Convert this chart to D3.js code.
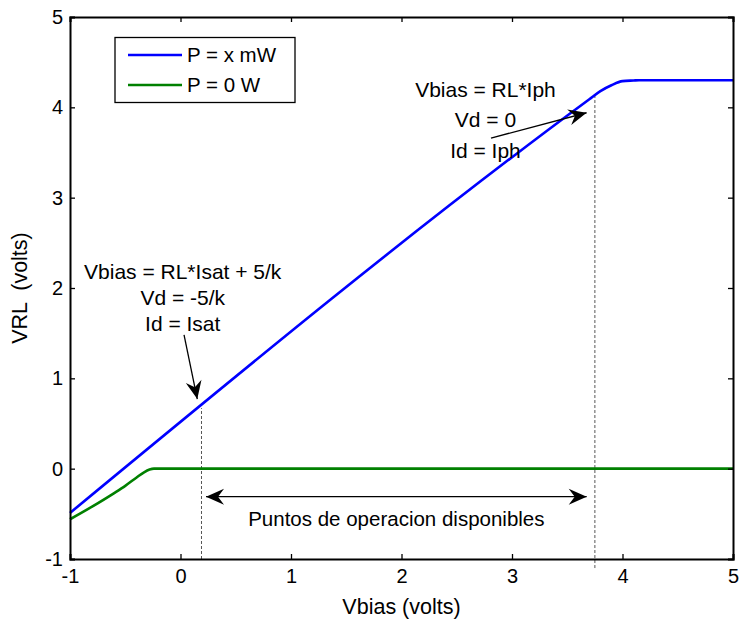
<!DOCTYPE html>
<html><head><meta charset="utf-8">
<script src="https://cdn.jsdelivr.net/npm/d3@7"></script>
<style>body{margin:0;background:#fff}svg{display:block}text{font-family:"Liberation Sans",Arial,sans-serif;fill:#000}</style>
</head><body><svg id="c" width="739" height="621"></svg>
<script>
const xTicks = [-1,0,1,2,3,4,5];
const yTicks = [-1,0,1,2,3,4,5];
const bluePts = [[-1,-0.49],[3.7,4.09],[3.8,4.18],[3.9,4.245],[4.0,4.29],[4.1,4.297],[4.15,4.3],[5,4.3]];
const greenPts = [[-1,-0.56],[-0.8,-0.42],[-0.6,-0.27],[-0.5,-0.19],[-0.4,-0.1],[-0.33,-0.04],[-0.28,-0.01],[-0.24,0],[5,0]];
const seriesNames = ["P = x mW","P = 0 W"];
const seriesColors = ["#0000ff","#008000"];
const opLines = [[0.19,-1,0.67],[3.75,-1.1,4.14]];
const annLeft = ["Vbias = RL*Isat + 5/k","Vd = -5/k","Id = Isat"];
const annTop = ["Vbias = RL*Iph","Vd = 0","Id = Iph"];
const rangeLabel = "Puntos de operacion disponibles";

const svg = d3.select("#c");
const L=70,R=733,T=17,B=559;
const x = d3.scaleLinear().domain([-1,5]).range([L,R]);
const y = d3.scaleLinear().domain([-1,5]).range([B,T]);

// dashed verticals
opLines.forEach(d=>{
  svg.append("line").attr("x1",x(d[0])).attr("x2",x(d[0])).attr("y1",y(d[1])).attr("y2",y(d[2]))
    .attr("stroke","#555").attr("stroke-width",1).attr("stroke-dasharray","3,2");
});

const line = d3.line().x(d=>x(d[0])).y(d=>y(d[1])).curve(d3.curveMonotoneX);
svg.append("path").datum(greenPts).attr("d",line).attr("fill","none").attr("stroke",seriesColors[1]).attr("stroke-width",2.6);
svg.append("path").datum(bluePts).attr("d",line).attr("fill","none").attr("stroke",seriesColors[0]).attr("stroke-width",2.6);

// axes box
const fmt = d=>String(d);
const ax = svg.append("g");
ax.append("g").attr("transform",`translate(0,${B})`).call(d3.axisBottom(x).tickValues(xTicks).tickSize(-5).tickPadding(10).tickFormat(fmt));
ax.append("g").attr("transform",`translate(0,${T})`).call(d3.axisTop(x).tickValues(xTicks).tickSize(-5).tickFormat(""));
ax.append("g").attr("transform",`translate(${L},0)`).call(d3.axisLeft(y).tickValues(yTicks).tickSize(-5).tickPadding(7).tickFormat(fmt));
ax.append("g").attr("transform",`translate(${R},0)`).call(d3.axisRight(y).tickValues(yTicks).tickSize(-5).tickFormat(""));
ax.selectAll(".domain").attr("stroke","#000").attr("stroke-width",2);
ax.selectAll(".tick line").attr("stroke","#000").attr("stroke-width",1.3);
ax.selectAll(".tick text").attr("font-size",20).attr("font-family","Liberation Sans, Arial, sans-serif").attr("fill","#000");

// axis labels
svg.append("text").attr("x",(L+R)/2).attr("y",614).attr("text-anchor","middle").attr("font-size",21.5).text("Vbias (volts)");
svg.append("text").attr("transform",`translate(27,${(T+B)/2}) rotate(-90)`).attr("text-anchor","middle").attr("font-size",21.5).attr("xml:space","preserve").style("white-space","pre").text("VRL  (volts)");

// legend
const lg = svg.append("g");
lg.append("rect").attr("x",115).attr("y",37.5).attr("width",180).attr("height",65).attr("fill","#fff").attr("stroke","#000").attr("stroke-width",1.3);
seriesNames.forEach((n,i)=>{
  const yy = 55+i*30;
  lg.append("line").attr("x1",128).attr("x2",182).attr("y1",yy).attr("y2",yy).attr("stroke",seriesColors[i]).attr("stroke-width",2.6);
  lg.append("text").attr("x",187).attr("y",yy).attr("dy","0.35em").attr("font-size",20.5).text(n);
});

// arrowhead helper
function head(tx,ty,dx,dy){
  const len=Math.hypot(dx,dy), ux=dx/len, uy=dy/len, px=-uy, py=ux;
  const Lh=18, W=8, N=6;
  const bx=tx-ux*Lh, by=ty-uy*Lh;
  const nx=tx-ux*(Lh-N), ny=ty-uy*(Lh-N);
  return `M${tx},${ty}L${bx+px*W},${by+py*W}L${nx},${ny}L${bx-px*W},${by-py*W}Z`;
}
function arrow(x1,y1,x2,y2){
  svg.append("line").attr("x1",x1).attr("y1",y1).attr("x2",x2).attr("y2",y2).attr("stroke","#000").attr("stroke-width",1.3);
  svg.append("path").attr("d",head(x2,y2,x2-x1,y2-y1)).attr("fill","#000");
}
// left annotation
annLeft.forEach((t,i)=>{
  svg.append("text").attr("x",x(0.02)).attr("y",y(2.18)+i*26).attr("dy","0.35em").attr("text-anchor","middle").attr("font-size",21).text(t);
});
arrow(x(0.032),y(1.48),x(0.152),y(0.77));
// top annotation
annTop.forEach((t,i)=>{
  svg.append("text").attr("x",x(2.76)).attr("y",y(4.2)+i*30.5).attr("dy","0.35em").attr("text-anchor","middle").attr("font-size",21).text(t);
});
arrow(x(2.81),y(3.66),x(3.675),y(3.94));
// double arrow
const ya=y(-0.31), xa1=x(0.231), xa2=x(3.676);
svg.append("line").attr("x1",xa1).attr("x2",xa2).attr("y1",ya).attr("y2",ya).attr("stroke","#000").attr("stroke-width",1.3);
svg.append("path").attr("d",head(xa1,ya,-1,0)).attr("fill","#000");
svg.append("path").attr("d",head(xa2,ya,1,0)).attr("fill","#000");
svg.append("text").attr("x",(xa1+xa2)/2).attr("y",y(-0.31)+22).attr("dy","0.35em").attr("text-anchor","middle").attr("font-size",20.5).text(rangeLabel);
</script></body></html>
